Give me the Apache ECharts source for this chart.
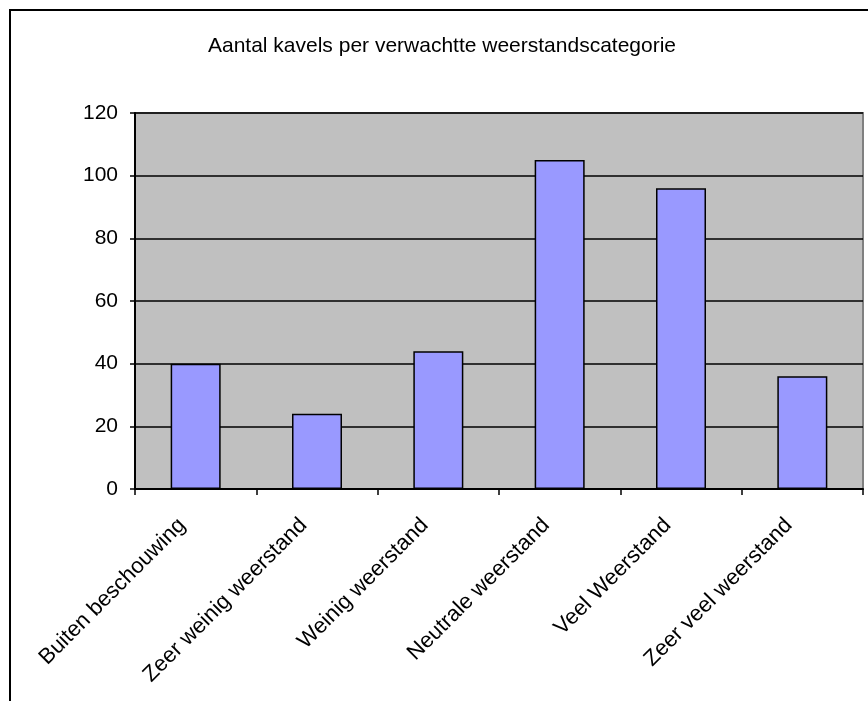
<!DOCTYPE html>
<html>
<head>
<meta charset="utf-8">
<script src="https://cdn.jsdelivr.net/npm/echarts@6/dist/echarts.min.js"></script>
<style>
  html, body { margin: 0; padding: 0; background: #fff; }
  #chart { width: 868px; height: 701px; }
</style>
</head>
<body>
<div id="chart"></div>
<script>
// categorieen en aantallen
var categories = ['Buiten beschouwing', 'Zeer weinig weerstand', 'Weinig weerstand',
                  'Neutrale weerstand', 'Veel Weerstand', 'Zeer veel weerstand'];
var kavels = [40, 24, 44, 105, 96, 36];
var yTicks = [0, 20, 40, 60, 80, 100, 120];

var myChart = echarts.init(document.getElementById('chart'));
var font = 'Arial, "Liberation Sans", sans-serif';

var option = {
  animation: false,
  title: {
    text: 'Aantal kavels per verwachtte weerstandscategorie',
    left: 437,
    textAlign: 'center',
    top: 31,
    textStyle: { fontSize: 21, fontWeight: 'normal', color: '#000', fontFamily: font }
  },
  graphic: [
    {
      type: 'rect',
      shape: { x: 10, y: 10, width: 870, height: 700 },
      style: { fill: 'none', stroke: '#000', lineWidth: 2 },
      z: 100
    }
  ],
  grid: {
    left: 135, top: 113, right: 5, bottom: 212,
    show: true,
    backgroundColor: '#C0C0C0',
    borderColor: '#808080',
    borderWidth: 2
  },
  xAxis: {
    type: 'category',
    data: categories,
    axisLine: { lineStyle: { color: '#000', width: 2 } },
    axisTick: { show: true, length: 6, lineStyle: { color: '#000', width: 1.5 } },
    axisLabel: {
      rotate: 45,
      interval: 0,
      margin: 35,
      padding: [0, 8, 0, 0],
      verticalAlign: 'bottom',
      fontSize: 22,
      color: '#000',
      fontFamily: font
    }
  },
  yAxis: {
    type: 'value',
    min: yTicks[0],
    max: yTicks[yTicks.length - 1],
    interval: yTicks[1] - yTicks[0],
    axisLine: { show: true, lineStyle: { color: '#000', width: 2 } },
    axisTick: { show: true, length: 5, lineStyle: { color: '#000', width: 1.5 } },
    axisLabel: { fontSize: 21, color: '#000', margin: 17, fontFamily: font },
    splitLine: { show: true, lineStyle: { color: '#000', width: 1.5 } }
  },
  series: [
    {
      type: 'bar',
      data: kavels,
      barWidth: 50,
      itemStyle: { color: '#9999FF', borderColor: '#000', borderWidth: 1.5 }
    }
  ]
};

option && myChart.setOption(option);
</script>
</body>
</html>
